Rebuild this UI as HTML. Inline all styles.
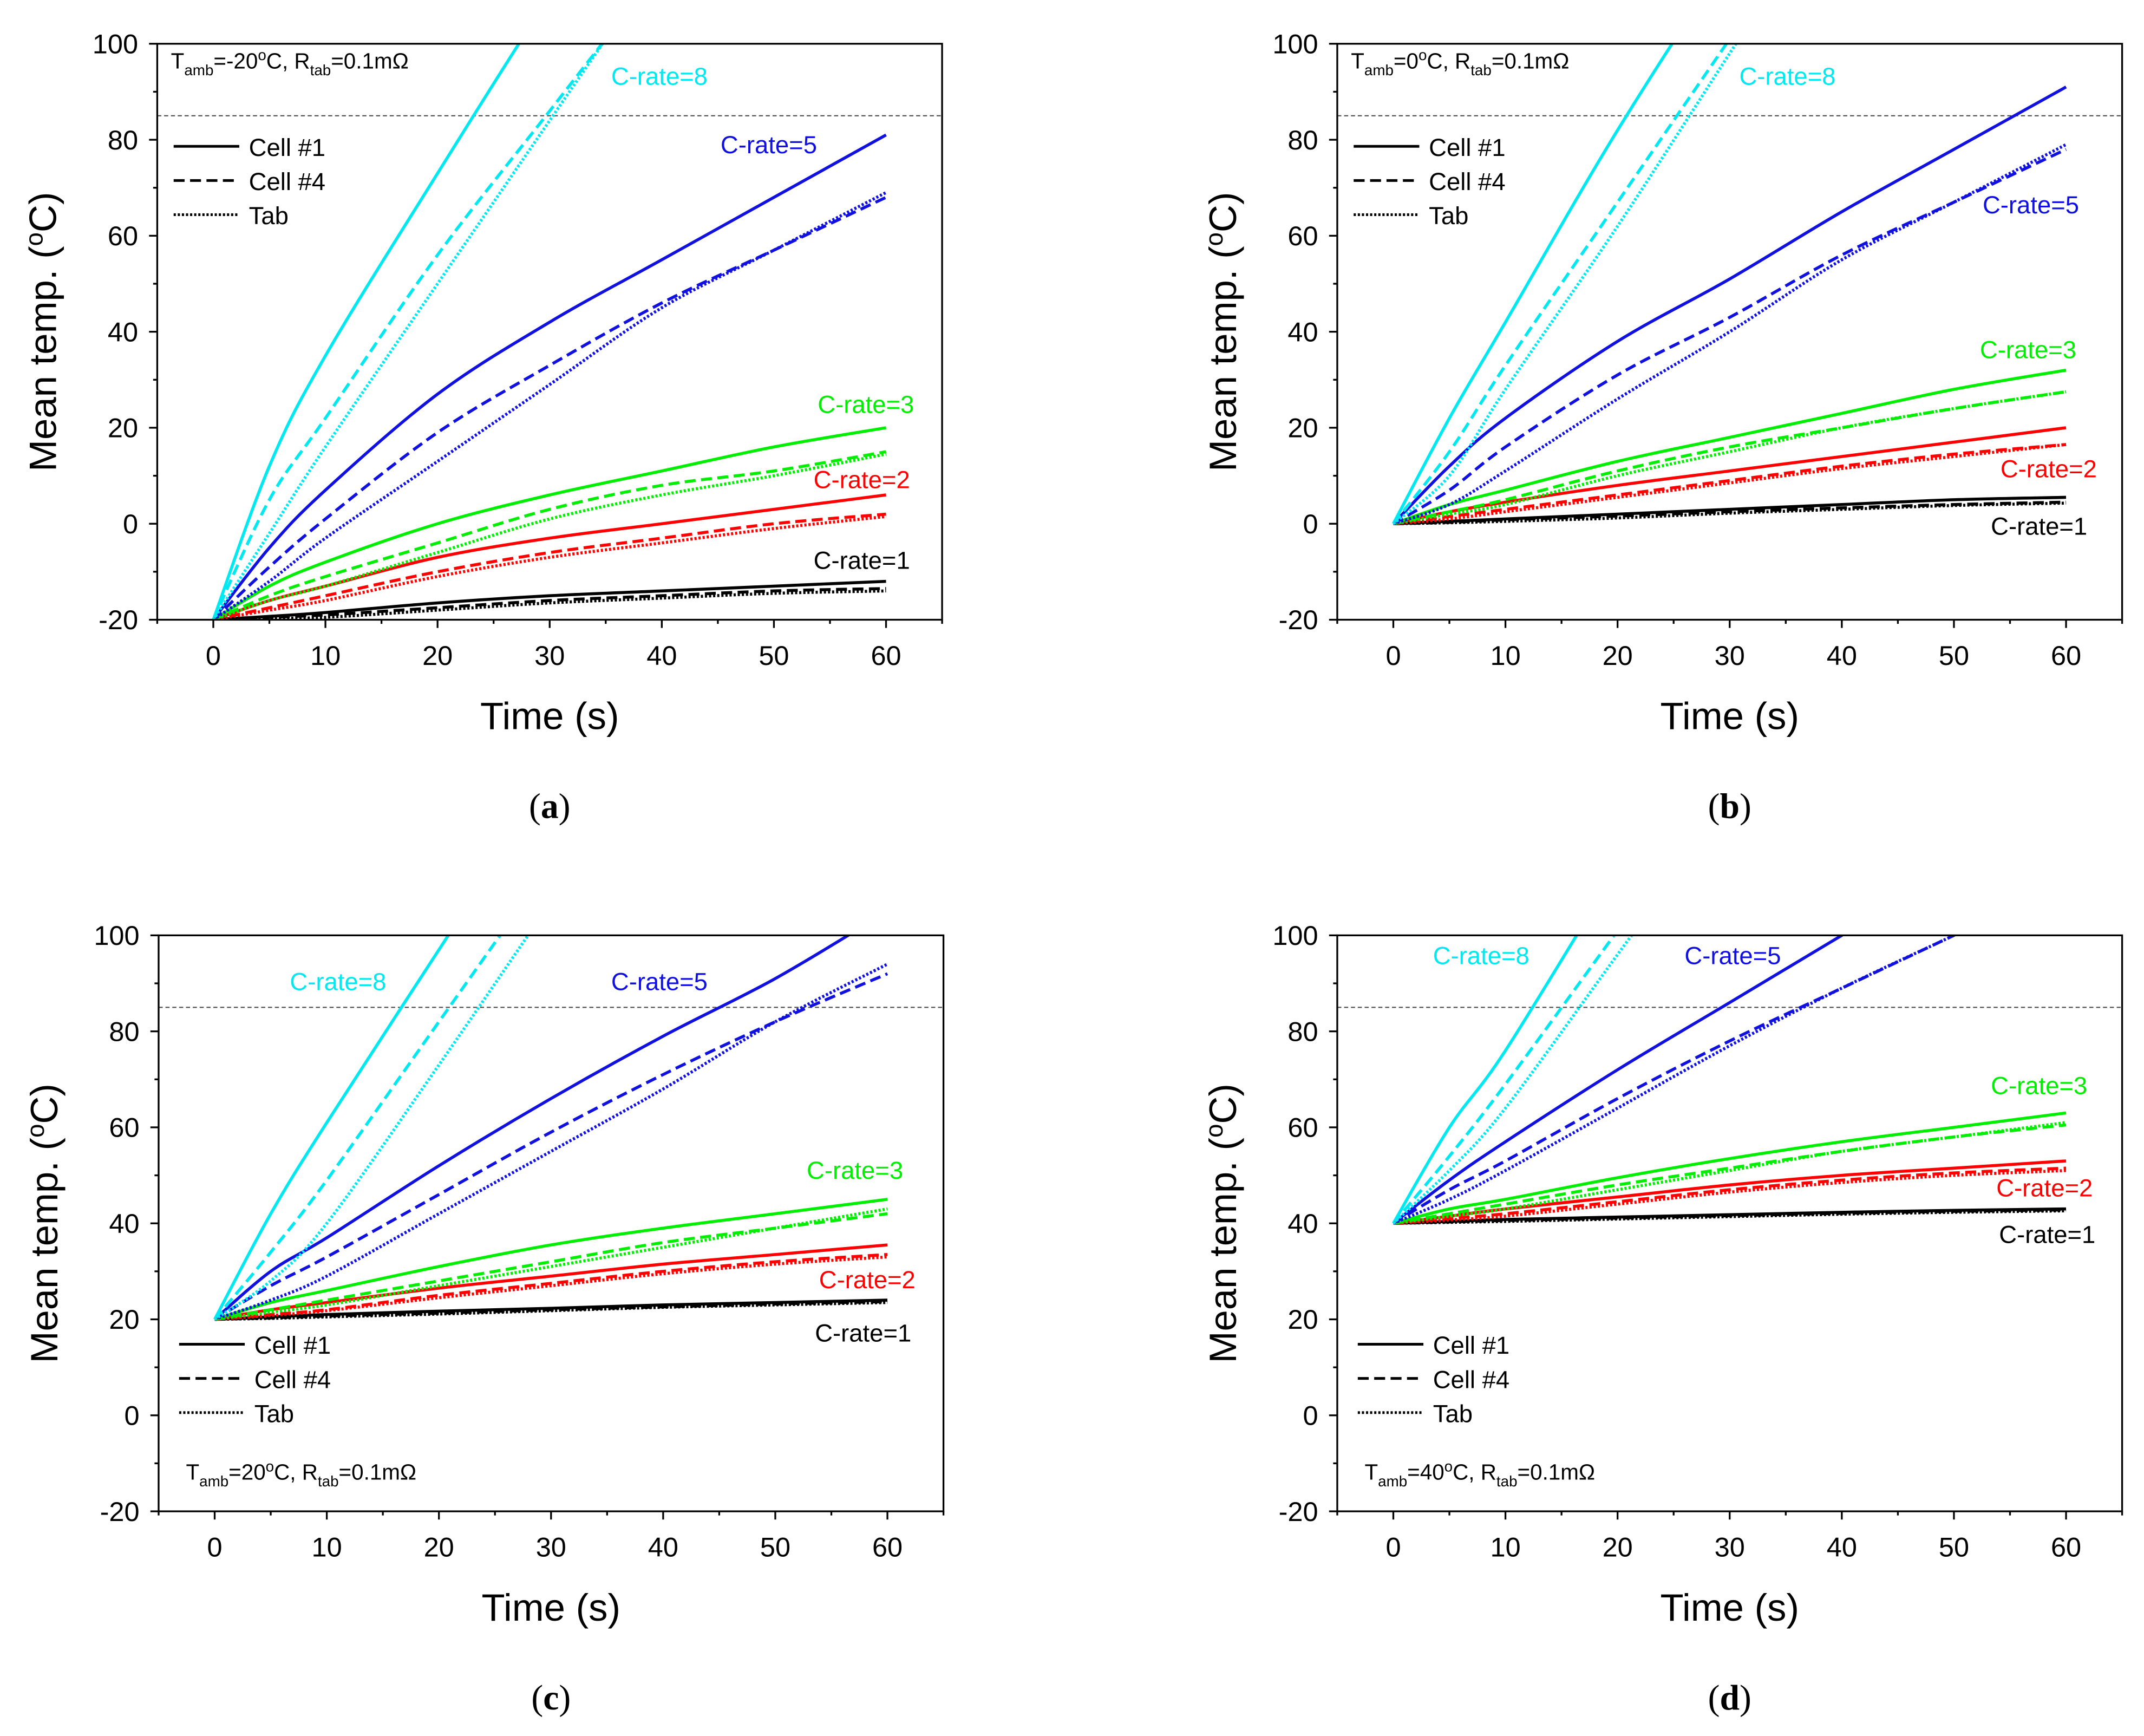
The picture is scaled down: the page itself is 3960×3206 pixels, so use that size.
<!DOCTYPE html>
<html><head><meta charset="utf-8"><style>
html,body{margin:0;padding:0;background:#fff;}
svg{display:block;}
text{font-family:"Liberation Sans",sans-serif;}
</style></head><body>
<svg id="fig" width="3960" height="3206" viewBox="0 0 1568 1269.5" preserveAspectRatio="none" xmlns="http://www.w3.org/2000/svg"></svg>
<script>
const times=[0,5,10,20,30,40,50,60];
const rates=["1","2","3","5","8"];
const colors=["#000000","#ff0000","#00ee00","#1010e0","#00e8f0"];
// panel a (Tamb=-20)
const A_cell1=[[-20,-19.3,-18.5,-16.5,-15,-14,-13,-12],[-20,-16,-13,-7,-3,0,3,6],[-20,-13,-8,0,6,11,16,20],[-20,-5,7,27,42,55,68,81],[-20,12,35,73,110,145,180,215]];
const A_cell4=[[-20,-19.5,-19,-17.5,-16,-15,-14,-13.5],[-20,-17.5,-15,-10,-6,-3,0,2],[-20,-15,-11,-4,3,8,11,15],[-20,-9,1,19,33,46,57,68],[-20,5,22,56,86,116,146,176]];
const A_tab=[[-20,-19.7,-19.5,-18,-16.5,-15.5,-14.5,-14],[-20,-18,-16,-11,-7,-4,-1,1.5],[-20,-16,-13,-6,1,6,10,14.5],[-20,-12,-3,13,29,45,57,69],[-20,-2,16,50,84,118,152,186]];
// panel b (Tamb=0)
const B_cell1=[[0,0.5,1,2,3,4,5,5.5],[0,2.5,4.5,8,11,14,17,20],[0,4,7,13,18,23,28,32],[0,12,22,38,51,65,78,91],[0,22,42,82,118,150,180,210]];
const B_cell4=[[0,0.3,0.8,1.6,2.5,3.3,4,4.5],[0,1.5,3,6,9,12,14.5,16.5],[0,2.5,5,11,16,20,24,27.5],[0,7,16,31,43,56,67,78],[0,15,33,67,101,135,170,205]];
const B_tab=[[0,0.2,0.5,1.2,2.2,3,3.8,4.3],[0,1,2.5,5.5,8.5,11.5,14,16.5],[0,2,4,10,15,20,24,27.5],[0,4,11,26,40,55,67,79],[0,10,28,62,98,134,170,206]];
// panel c (Tamb=20)
const C_cell1=[[20,20.5,21,21.7,22.3,23,23.5,24],[20,22,23.5,26.5,29,31.5,33.5,35.5],[20,23.5,26,31,35.5,39,42,45],[20,30,37,52,66,79,91,105],[20,42,61,97,133,169,205,241]];
const C_cell4=[[20,20.3,20.7,21.3,22,22.6,23.2,23.7],[20,21,22,25,27.5,30,32,33.5],[20,22,24,28,32,36,39,42],[20,27,33,46,59,71,82,92],[20,34,49,82,115,148,181,214]];
const C_tab=[[20,20.2,20.5,21.1,21.8,22.5,23,23.5],[20,20.8,21.8,24.5,27,29.5,31.5,33],[20,21.5,23,27,31,35,39,43],[20,24,29,42,55,68,82,94],[20,28,40,73,107,141,175,209]];
// panel d (Tamb=40)
const D_cell1=[[40,40.4,40.8,41.3,41.8,42.3,42.7,43],[40,41.5,43,45.5,48,50,51.5,53],[40,43,45,49.5,53.5,57,60,63],[40,49,57,72,86,100,114,128],[40,60,76,114,152,190,228,266]];
const D_cell4=[[40,40.3,40.6,41.1,41.6,42.1,42.5,42.8],[40,41,42,44.5,47,49,50.5,51.5],[40,42,44,48,51.5,55,58,60.5],[40,47,53,66,78,89,100,111],[40,54,69,101,133,165,197,229]];
const D_tab=[[40,40.2,40.4,40.9,41.4,41.9,42.3,42.6],[40,40.7,41.5,44,46.5,48.5,50,51],[40,41.5,43,47,51,55,58,61],[40,45,51,64,77,89,100,111],[40,51,64,96,128,160,192,224]];
const xTicks=[0,10,20,30,40,50,60];
const yTicks=[-20,0,20,40,60,80,100];
const NS="http://www.w3.org/2000/svg";
const svg=document.getElementById('fig');
function mk(tag,attrs,parent){const e=document.createElementNS(NS,tag);for(const k in attrs)e.setAttribute(k,attrs[k]);(parent||svg).appendChild(e);return e;}
function txt(s,x,y,size,anchor,parent,color){const t=mk('text',{x:x,y:y,'font-size':size,'text-anchor':anchor||'start',fill:color||'#000'},parent);t.textContent=s;return t;}
function smooth(P){let d='M'+P[0][0].toFixed(2)+','+P[0][1].toFixed(2);
 for(let i=0;i<P.length-1;i++){const p0=P[i-1]||P[i],p1=P[i],p2=P[i+1],p3=P[i+2]||P[i+1];
  const c1=[p1[0]+(p2[0]-p0[0])/6,p1[1]+(p2[1]-p0[1])/6],c2=[p2[0]-(p3[0]-p1[0])/6,p2[1]-(p3[1]-p1[1])/6];
  d+=' C'+c1[0].toFixed(2)+','+c1[1].toFixed(2)+' '+c2[0].toFixed(2)+','+c2[1].toFixed(2)+' '+p2[0].toFixed(2)+','+p2[1].toFixed(2);}
 return d;}
const panels=[
 {id:'a',x0:156,y100:32,c1:A_cell1,c4:A_cell4,tb:A_tab,amb:'-20',annY:50,legY:107,labels:[[595,416],[595,357],[598,302],[527,112],[447,62]]},
 {id:'b',x0:1019,y100:32,c1:B_cell1,c4:B_cell4,tb:B_tab,amb:'0',annY:50,legY:107,labels:[[1456,391],[1463,349],[1448,262],[1450,156],[1272,62]]},
 {id:'c',x0:157,y100:684,c1:C_cell1,c4:C_cell4,tb:C_tab,amb:'20',annY:1082,legY:983,labels:[[596,981],[599,942],[590,862],[447,724],[212,724]]},
 {id:'d',x0:1019,y100:684,c1:D_cell1,c4:D_cell4,tb:D_tab,amb:'40',annY:1082,legY:983,labels:[[1462,909],[1460,875],[1456,800],[1232,705],[1048,705]]}
];
const styles=[{k:'c1',name:'cell-1',dash:''},{k:'c4',name:'cell-4',dash:'8,4'},{k:'tb',name:'tab',dash:'1.6,1.4'}];
panels.forEach((p,pi)=>{
 const xs=v=>p.x0+v*8.2, ys=v=>p.y100+(100-v)*3.51;
 const g=mk('g',{});  
 const L=xs(-5),R=xs(65),T=ys(100),B=ys(-20);
 const cp=mk('clipPath',{id:'clip'+p.id},g); mk('rect',{x:L,y:T,width:R-L,height:B-T},cp);
 const rl=mk('line',{x1:L,x2:R,y1:ys(85),y2:ys(85),stroke:'#444','stroke-width':0.8,'stroke-dasharray':'3,2'},g);
  
 styles.forEach(st=>{
  p[st.k].forEach((vals,ri)=>{
   const P=times.map((t,i)=>[xs(t),ys(vals[i])]);
   const pl=mk('path',{d:smooth(P),fill:'none',stroke:colors[ri],'stroke-width':2.2,'stroke-dasharray':st.dash,'clip-path':'url(#clip'+p.id+')','stroke-linejoin':'round'},g);
   
   
  });
 });
 const fr=mk('rect',{x:L,y:T,width:R-L,height:B-T,fill:'none',stroke:'#000','stroke-width':1.3},g);
  
 xTicks.forEach(v=>{mk('line',{x1:xs(v),x2:xs(v),y1:B,y2:B+6,stroke:'#000','stroke-width':1.3},g);
  const t=txt(String(v),xs(v),B+33,20,'middle',g);  });
 for(let v=-5;v<=65;v+=10) mk('line',{x1:xs(v),x2:xs(v),y1:B,y2:B+3,stroke:'#000','stroke-width':1.3},g);
 yTicks.forEach(v=>{mk('line',{x1:L,x2:L-6,y1:ys(v),y2:ys(v),stroke:'#000','stroke-width':1.3},g);
  const t=txt(String(v),L-14,ys(v)+7,20,'end',g);  });
 for(let v=-10;v<100;v+=20) mk('line',{x1:L,x2:L-3,y1:ys(v),y2:ys(v),stroke:'#000','stroke-width':1.3},g);
 const xt=txt('Time (s)',(L+R)/2,B+80,28,'middle',g);  
 const yt=mk('text',{x:0,y:0,'font-size':28,'text-anchor':'middle',transform:'translate('+(L-74)+','+((T+B)/2)+') rotate(-90)'},g);
 yt.innerHTML='Mean temp. (<tspan font-size="18" dy="-10">o</tspan><tspan dy="10">C)</tspan>';
  
 const an=mk('text',{x:L+10+(pi>=2?10:0),y:p.annY,'font-size':16},g);
 an.innerHTML='T<tspan font-size="11" dy="5">amb</tspan><tspan dy="-5">='+p.amb+'</tspan><tspan font-size="11" dy="-6">o</tspan><tspan dy="6">C, R</tspan><tspan font-size="11" dy="5">tab</tspan><tspan dy="-5">=0.1mΩ</tspan>';
  
 const lx=L+12+(pi>=2?3:0);
 const legNames=['Cell #1','Cell #4','Tab'];
 styles.forEach((st,i)=>{const y=p.legY+i*25;
  const ll=mk('line',{x1:lx,x2:lx+48,y1:y,y2:y,stroke:'#000','stroke-width':2,'stroke-dasharray':st.dash},g);
   
  const lt=txt(legNames[i],lx+55,y+7,18,'start',g);  });
 p.labels.forEach((pos,ri)=>{const t=txt('C-rate='+rates[ri],pos[0],pos[1],18,'start',g,colors[ri]);
   });
 const cap=mk('text',{x:(L+R)/2,y:B+145,'font-size':26,'text-anchor':'middle',style:'font-family:"Liberation Serif",serif'},g);
 cap.innerHTML='(<tspan font-weight="bold">'+p.id+'</tspan>)';
  
});
</script>
</body></html>
